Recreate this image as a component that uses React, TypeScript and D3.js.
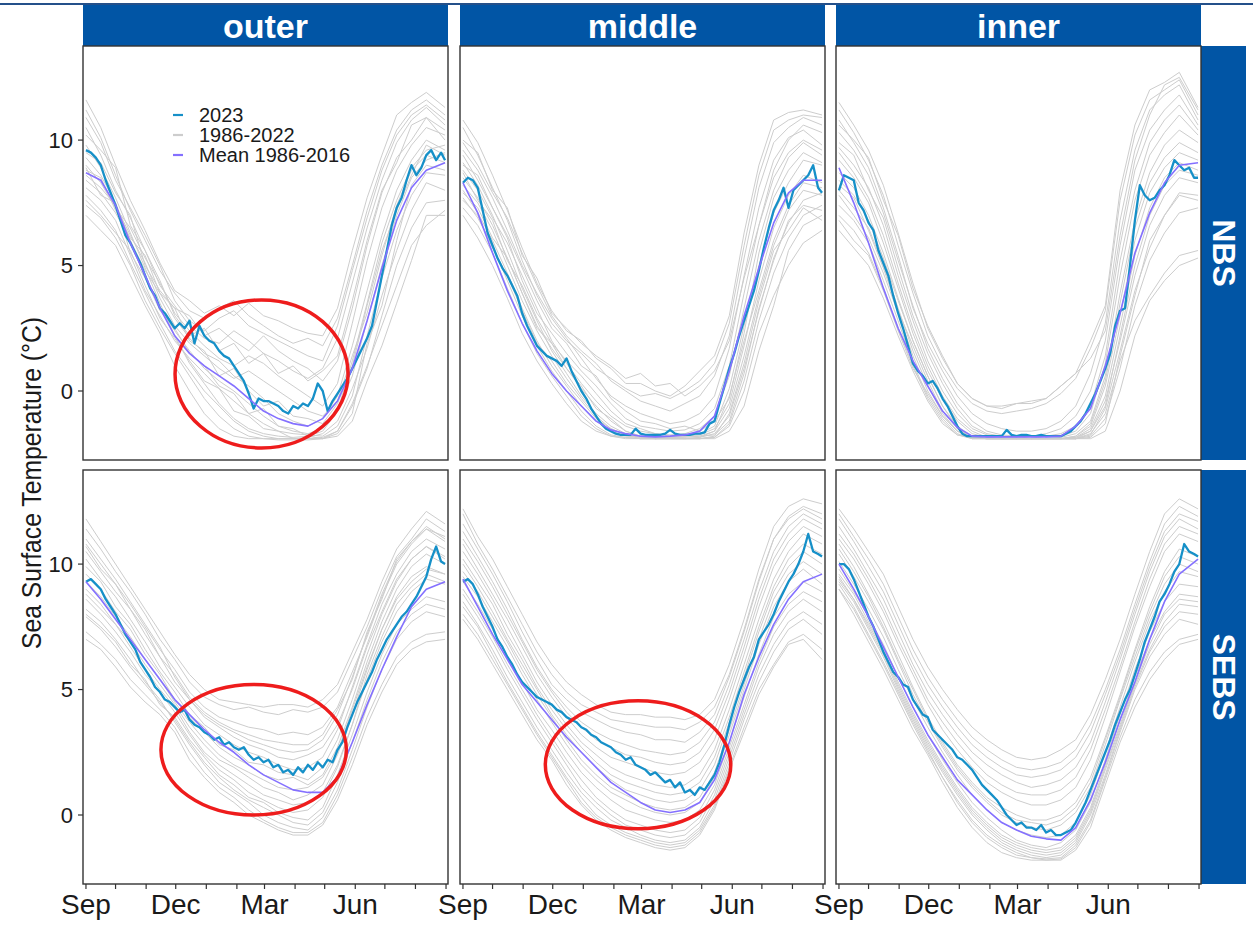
import React from "react";
import * as d3 from "d3";

// ---------- categories / ticks ----------
const regions = ["outer", "middle", "inner"];
const areas = ["NBS", "SEBS"];
const yTicks = [0, 5, 10];
const monthTickDays = [0, 30, 61, 91, 122, 153, 181, 212, 242, 273, 303, 334, 365];
const monthTickLabels = ["Sep", "", "", "Dec", "", "", "Mar", "", "", "Jun", "", "", ""];
const legendLabels = ["2023", "1986-2022", "Mean 1986-2016"];

// sample days (days since Sep 1)
const gridDays = [0, 15, 30, 45, 60, 75, 90, 105, 120, 135, 150, 165, 180, 195, 210, 225, 240, 255, 270, 285, 300, 315, 330, 345, 364];
const days2023 = [0, 5, 10, 15, 20, 25, 30, 35, 40, 45, 50, 55, 60, 65, 70, 75, 80, 85, 90, 95, 100, 105, 110, 115, 120, 125, 130, 135, 140, 145, 150, 155, 160, 165, 170, 175, 180, 185, 190, 195, 200, 205, 210, 215, 220, 225, 230, 235, 240, 245, 250, 255, 260, 265, 270, 275, 280, 285, 290, 295, 300, 305, 310, 315, 320, 325, 330, 335, 340, 345, 350, 355, 360, 364];

// ---------- 2023 ----------
const sst2023_NBS_outer = [9.6, 9.5, 9.3, 9.0, 8.4, 7.9, 7.4, 6.8, 6.2, 5.9, 5.5, 5.1, 4.6, 4.1, 3.8, 3.3, 3.1, 2.8, 2.5, 2.7, 2.5, 2.8, 1.9, 2.6, 2.2, 2.0, 1.9, 1.6, 1.4, 1.3, 1.0, 0.7, 0.4, -0.1, -0.7, -0.3, -0.4, -0.4, -0.5, -0.6, -0.8, -0.9, -0.6, -0.7, -0.5, -0.6, -0.3, 0.3, 0.0, -0.8, -0.4, -0.1, 0.2, 0.5, 0.9, 1.3, 1.7, 2.1, 2.6, 3.6, 4.6, 5.6, 6.6, 7.3, 7.7, 8.4, 9.0, 8.6, 8.9, 9.4, 9.6, 9.2, 9.5, 9.2];
const sst2023_NBS_middle = [8.3, 8.5, 8.4, 8.1, 7.2, 6.3, 5.8, 5.3, 4.9, 4.6, 4.2, 3.8, 3.1, 2.6, 2.2, 1.8, 1.6, 1.4, 1.3, 1.2, 1.0, 1.3, 0.8, 0.4, 0.0, -0.3, -0.7, -1.0, -1.3, -1.5, -1.6, -1.7, -1.75, -1.75, -1.75, -1.5, -1.7, -1.75, -1.75, -1.75, -1.75, -1.7, -1.55, -1.7, -1.75, -1.75, -1.75, -1.7, -1.7, -1.65, -1.3, -1.2, -0.5, 0.2, 0.9, 1.5, 2.2, 2.8, 3.4, 4.0, 4.8, 5.7, 6.5, 7.2, 7.6, 8.1, 7.3, 8.0, 8.2, 8.4, 8.6, 9.0, 8.1, 7.9];
const sst2023_NBS_inner = [8.0, 8.6, 8.5, 8.4, 7.5, 7.2, 6.7, 6.4, 5.6, 5.1, 4.6, 3.8, 3.1, 2.5, 1.8, 1.1, 0.8, 0.6, 0.3, 0.4, 0.1, -0.3, -0.6, -1.0, -1.4, -1.7, -1.8, -1.8, -1.8, -1.8, -1.8, -1.8, -1.8, -1.8, -1.55, -1.75, -1.8, -1.75, -1.75, -1.8, -1.8, -1.75, -1.8, -1.8, -1.8, -1.8, -1.7, -1.6, -1.4, -1.2, -0.9, -0.5, -0.1, 0.4, 0.9, 1.5, 2.6, 3.2, 3.3, 5.0, 6.8, 8.2, 7.8, 7.6, 7.7, 8.0, 8.2, 8.6, 9.2, 9.0, 8.8, 8.9, 8.5, 8.5];
const sst2023_SEBS_outer = [9.3, 9.4, 9.2, 9.0, 8.6, 8.3, 8.0, 7.6, 7.2, 6.9, 6.6, 6.1, 5.8, 5.5, 5.1, 4.9, 4.6, 4.5, 4.3, 4.1, 4.2, 3.8, 3.6, 3.5, 3.3, 3.2, 3.0, 3.1, 2.8, 2.9, 2.7, 2.6, 2.7, 2.4, 2.2, 2.3, 2.1, 2.2, 1.9, 2.0, 1.7, 1.8, 1.6, 1.9, 1.7, 2.0, 1.8, 2.1, 1.9, 2.2, 2.1, 2.6, 2.9, 3.5, 4.0, 4.5, 4.9, 5.3, 5.7, 6.2, 6.6, 7.0, 7.3, 7.6, 7.9, 8.1, 8.4, 8.7, 9.1, 9.5, 10.2, 10.7, 10.1, 10.0];
const sst2023_SEBS_middle = [9.3, 9.4, 9.2, 8.8, 8.3, 7.9, 7.5, 7.0, 6.7, 6.3, 6.0, 5.6, 5.3, 5.1, 4.9, 4.7, 4.6, 4.5, 4.4, 4.2, 4.1, 3.9, 3.8, 3.7, 3.5, 3.4, 3.2, 3.1, 2.9, 2.8, 2.7, 2.5, 2.4, 2.2, 2.3, 2.0, 1.9, 1.8, 1.6, 1.7, 1.5, 1.3, 1.4, 1.1, 1.3, 0.9, 1.0, 0.8, 1.1, 1.0, 1.3, 1.6, 2.1, 2.8, 3.6, 4.3, 4.9, 5.4, 5.9, 6.3, 7.0, 7.3, 7.6, 8.0, 8.5, 8.9, 9.3, 9.6, 10.0, 10.5, 11.2, 10.5, 10.4, 10.3];
const sst2023_SEBS_inner = [10.0, 10.0, 9.8, 9.4, 8.9, 8.4, 7.9, 7.5, 7.0, 6.5, 6.1, 5.7, 5.5, 5.2, 5.1, 4.6, 4.3, 4.0, 3.9, 3.4, 3.2, 3.0, 2.8, 2.6, 2.3, 2.2, 2.0, 1.8, 1.5, 1.2, 1.0, 0.8, 0.6, 0.3, 0.0, -0.2, -0.4, -0.3, -0.5, -0.5, -0.6, -0.4, -0.7, -0.6, -0.8, -0.8, -0.7, -0.6, -0.3, 0.1, 0.5, 1.0, 1.5, 2.0, 2.5, 3.0, 3.6, 4.1, 4.6, 5.0, 5.6, 6.2, 6.9, 7.4, 7.9, 8.5, 8.8, 9.2, 9.7, 10.0, 10.8, 10.5, 10.4, 10.3];

// ---------- Mean 1986-2016 ----------
const mean_NBS_outer = [8.7, 8.4, 7.4, 5.9, 4.6, 3.3, 2.2, 1.5, 1.0, 0.6, 0.2, -0.3, -0.8, -1.1, -1.3, -1.4, -1.1, -0.4, 0.9, 2.8, 4.9, 6.8, 8.1, 8.8, 9.1];
const mean_NBS_middle = [8.3, 7.1, 5.5, 4.0, 2.7, 1.6, 0.7, 0.0, -0.6, -1.2, -1.55, -1.7, -1.8, -1.83, -1.8, -1.75, -1.6, -1.0, 0.8, 3.0, 4.9, 6.7, 7.9, 8.4, 8.4];
const mean_NBS_inner = [8.9, 7.5, 5.9, 4.1, 2.5, 1.2, 0.2, -0.8, -1.45, -1.8, -1.83, -1.83, -1.83, -1.83, -1.83, -1.8, -1.4, -0.7, 1.0, 3.1, 5.5, 7.1, 8.3, 9.0, 9.1];
const mean_SEBS_outer = [9.3, 8.6, 7.8, 7.0, 6.2, 5.4, 4.6, 4.0, 3.4, 2.9, 2.5, 2.0, 1.6, 1.3, 1.0, 0.9, 0.9, 1.5, 2.9, 4.4, 5.8, 7.1, 8.3, 9.0, 9.3];
const mean_SEBS_middle = [9.4, 8.3, 7.2, 6.2, 5.2, 4.5, 3.8, 3.1, 2.5, 1.9, 1.3, 0.9, 0.5, 0.2, 0.1, 0.2, 0.5, 1.4, 2.9, 4.8, 6.3, 7.6, 8.6, 9.3, 9.6];
const mean_SEBS_inner = [10.0, 9.0, 7.9, 6.7, 5.5, 4.3, 3.2, 2.3, 1.4, 0.8, 0.2, -0.3, -0.6, -0.85, -0.95, -1.0, -0.5, 0.6, 2.1, 3.8, 5.3, 7.0, 8.5, 9.6, 10.2];

// ---------- 1986-2022 (gray) ----------
const hist_NBS_outer = [
  [11.2, 10.1, 8.6, 7.2, 6.0, 4.8, 3.9, 3.2, 2.9, 3.3, 3.6, 3.0, 2.6, 2.2, 1.9, 2.1, 1.8, 2.9, 5.0, 7.2, 9.0, 10.4, 11.2, 11.6, 11.0],
  [7.0, 6.4, 5.8, 4.6, 3.4, 2.3, 1.0, 0.0, -0.9, -1.5, -1.8, -1.9, -1.9, -1.9, -1.9, -1.9, -1.85, -1.6, -0.5, 1.0, 2.6, 4.2, 5.8, 6.6, 7.2],
  [9.8, 8.9, 7.7, 6.3, 4.9, 3.5, 2.2, 1.1, 0.3, -0.5, -1.1, -1.5, -1.7, -1.8, -1.85, -1.8, -1.6, -0.8, 1.2, 3.5, 5.9, 7.6, 8.9, 9.6, 9.8],
  [8.4, 7.9, 7.1, 6.0, 4.8, 3.9, 2.9, 2.1, 1.5, 1.2, 0.6, 0.2, -0.3, -0.9, -1.2, -1.4, -1.1, -0.2, 1.8, 4.0, 6.2, 8.0, 9.2, 10.0, 9.6],
  [10.5, 9.4, 8.0, 6.9, 5.6, 4.2, 3.4, 2.6, 2.1, 1.9, 2.4, 2.0, 1.5, 1.2, 0.8, 0.5, 0.9, 2.1, 4.3, 6.5, 8.4, 9.9, 10.8, 11.3, 10.6],
  [7.8, 7.2, 6.4, 5.1, 3.9, 2.7, 1.6, 0.8, 0.0, -0.6, -1.2, -1.6, -1.8, -1.9, -1.9, -1.85, -1.7, -1.2, 0.1, 1.7, 3.8, 5.6, 7.2, 8.3, 8.0],
  [9.0, 8.3, 7.3, 6.5, 5.3, 4.3, 3.1, 2.4, 1.8, 1.3, 1.0, 1.4, 1.1, 0.6, 0.2, -0.2, -0.6, 0.3, 2.7, 5.2, 7.3, 8.8, 9.8, 10.5, 10.2],
  [8.1, 7.6, 6.8, 5.4, 4.0, 3.0, 2.0, 1.3, 0.7, 0.1, -0.4, -0.9, -1.3, -1.6, -1.7, -1.75, -1.8, -1.4, -0.2, 2.2, 4.5, 6.4, 7.8, 8.7, 8.6],
  [10.9, 9.9, 8.4, 7.3, 6.2, 5.0, 3.6, 2.8, 2.4, 2.9, 3.2, 2.6, 2.3, 2.0, 1.7, 1.4, 1.2, 2.6, 4.8, 6.9, 8.8, 10.2, 11.0, 11.4, 10.8],
  [9.3, 8.6, 7.5, 6.0, 4.5, 3.3, 2.4, 1.6, 0.9, 0.4, 0.0, -0.5, -1.0, -1.4, -1.6, -1.7, -1.5, -0.8, 0.6, 2.8, 5.0, 7.0, 8.5, 9.2, 9.5],
  [8.6, 8.1, 7.4, 6.2, 5.1, 3.7, 2.6, 1.9, 1.4, 0.9, 0.5, 0.8, 0.4, 0.0, -0.4, -0.8, -1.0, -0.4, 1.4, 3.1, 5.4, 7.4, 8.8, 9.4, 9.1],
  [7.4, 6.9, 6.1, 5.0, 3.6, 2.5, 1.5, 0.6, -0.3, -1.0, -1.5, -1.8, -1.9, -1.95, -1.95, -1.95, -1.9, -1.6, -0.6, 0.9, 3.0, 5.0, 6.5, 7.5, 7.6],
  [10.2, 9.6, 8.9, 6.6, 5.6, 4.4, 3.0, 2.2, 2.5, 1.6, 1.9, 1.1, 1.5, 0.7, 1.0, 0.4, 0.8, 1.4, 3.6, 6.0, 8.0, 9.1, 10.6, 10.9, 10.4],
  [8.9, 7.8, 7.5, 5.5, 4.5, 3.2, 2.5, 1.5, 1.0, 0.2, -0.1, -0.9, -0.7, -1.4, -1.5, -1.8, -1.9, -1.7, -0.9, 1.9, 3.4, 6.0, 8.2, 9.0, 8.8],
  [9.5, 9.1, 7.9, 7.0, 5.0, 4.0, 3.3, 3.0, 2.2, 2.5, 2.0, 1.6, 2.2, 1.6, 1.2, 0.9, 0.4, 1.2, 3.3, 5.8, 7.9, 9.3, 10.0, 10.9, 10.0],
  [7.6, 7.0, 6.3, 5.6, 4.2, 2.9, 2.1, 1.2, 0.4, 0.1, -0.8, -1.0, -1.5, -1.6, -1.9, -1.9, -1.9, -1.8, -1.2, 0.4, 1.8, 3.5, 5.2, 7.0, 7.0],
  [11.6, 10.5, 9.0, 7.6, 6.4, 5.1, 4.0, 3.6, 3.1, 3.4, 3.0, 3.5, 3.0, 2.8, 2.5, 2.3, 2.2, 3.3, 5.6, 7.7, 9.4, 11.0, 11.5, 11.9, 11.3],
  [8.8, 8.5, 7.2, 6.1, 5.4, 3.9, 3.3, 2.0, 1.6, 0.6, 0.9, 0.0, -0.6, -0.4, -1.0, -1.1, -1.3, -0.5, 1.0, 3.4, 5.6, 7.2, 8.6, 9.8, 9.4],
];
const hist_NBS_middle = [
  [10.5, 9.4, 8.1, 6.8, 5.2, 3.8, 2.7, 2.0, 1.5, 0.9, 0.5, 0.1, -0.2, -0.1, -0.3, 0.0, 0.4, 1.1, 2.7, 5.8, 8.6, 10.4, 10.8, 11.0, 10.9],
  [7.0, 6.1, 5.0, 3.7, 2.3, 1.2, 0.3, -0.5, -1.2, -1.6, -1.8, -1.85, -1.9, -1.9, -1.9, -1.9, -1.9, -1.85, -1.4, 0.0, 2.3, 3.8, 5.0, 5.9, 6.4],
  [9.1, 8.2, 7.0, 5.6, 4.1, 2.8, 1.6, 0.7, -0.2, -0.9, -1.4, -1.7, -1.8, -1.85, -1.85, -1.8, -1.7, -1.4, 0.1, 2.6, 5.0, 7.1, 8.3, 9.2, 9.0],
  [8.2, 7.5, 6.4, 5.0, 3.6, 2.4, 1.4, 0.5, -0.3, -1.0, -1.5, -1.75, -1.85, -1.85, -1.8, -1.8, -1.75, -1.5, -0.5, 1.8, 4.4, 6.5, 7.8, 8.6, 8.3],
  [9.6, 8.8, 7.7, 6.4, 5.0, 3.9, 2.9, 2.1, 1.3, 0.5, -0.2, -0.6, -0.9, -1.1, -1.3, -1.2, -0.9, -0.2, 1.7, 4.6, 7.3, 9.2, 10.1, 10.4, 9.8],
  [7.7, 6.9, 5.8, 4.4, 3.0, 1.8, 0.8, 0.0, -0.8, -1.4, -1.75, -1.85, -1.9, -1.9, -1.9, -1.9, -1.85, -1.7, -1.0, 0.9, 3.2, 5.3, 6.7, 7.6, 7.9],
  [8.8, 8.0, 6.9, 5.9, 4.6, 3.3, 2.0, 1.1, 0.3, -0.4, -1.0, -1.4, -1.6, -1.7, -1.75, -1.7, -1.5, -1.0, 0.6, 3.3, 6.0, 8.0, 9.3, 9.9, 9.4],
  [9.9, 9.0, 7.9, 6.9, 5.5, 4.2, 3.0, 2.2, 1.6, 1.1, 0.4, 0.0, -0.4, -0.6, -0.8, -0.5, -0.2, 0.6, 2.2, 5.3, 8.1, 9.9, 10.5, 10.9, 10.6],
  [8.5, 7.7, 6.6, 5.3, 3.9, 2.6, 1.7, 0.9, 0.1, -0.6, -1.2, -1.6, -1.8, -1.85, -1.85, -1.85, -1.8, -1.6, -0.7, 1.4, 3.8, 5.8, 7.2, 8.0, 7.8],
  [7.3, 6.6, 5.5, 4.1, 2.7, 1.5, 0.6, -0.2, -1.0, -1.5, -1.8, -1.9, -1.9, -1.9, -1.9, -1.9, -1.9, -1.85, -1.3, 0.4, 2.8, 4.7, 6.1, 7.0, 7.4],
  [9.4, 8.4, 7.3, 6.1, 4.4, 3.1, 2.3, 1.5, 0.8, 0.2, -0.5, -1.1, -1.4, -1.5, -1.6, -1.55, -1.3, -0.7, 1.0, 3.9, 6.6, 8.5, 9.5, 10.0, 9.6],
  [8.0, 7.1, 6.0, 4.7, 3.3, 2.0, 1.0, 0.2, -0.6, -1.2, -1.6, -1.8, -1.85, -1.9, -1.9, -1.9, -1.85, -1.6, -0.2, 2.0, 4.0, 6.0, 7.4, 8.3, 8.1],
  [10.0, 9.5, 8.0, 7.3, 5.4, 4.5, 3.1, 2.5, 1.9, 1.4, 1.0, 0.5, 0.7, 0.2, 0.3, -0.2, 0.2, 0.8, 2.0, 4.5, 6.6, 8.8, 10.0, 10.6, 10.3],
  [7.9, 7.3, 6.1, 5.3, 3.9, 2.5, 1.9, 0.9, 0.2, -0.7, -1.1, -1.6, -1.8, -1.9, -1.85, -1.9, -1.9, -1.9, -1.6, -0.6, 1.6, 3.4, 5.6, 6.6, 7.0],
  [9.0, 8.6, 7.3, 6.2, 4.9, 3.6, 2.5, 1.9, 1.0, 0.6, -0.3, -0.8, -1.2, -1.3, -1.5, -1.4, -1.6, -1.2, -0.3, 2.3, 5.5, 7.7, 8.8, 9.5, 9.1],
  [8.7, 7.6, 6.8, 5.2, 4.2, 2.9, 1.9, 1.2, 0.6, -0.1, -0.8, -1.3, -1.5, -1.7, -1.8, -1.8, -1.8, -1.75, -1.2, 0.7, 3.3, 5.2, 6.8, 7.4, 7.2],
  [10.8, 9.9, 8.6, 7.2, 5.7, 4.3, 3.2, 2.4, 2.0, 1.3, 0.9, 0.3, 0.3, 0.0, -0.2, 0.2, 0.8, 1.4, 3.0, 6.3, 9.0, 10.8, 11.1, 11.2, 11.0],
  [7.6, 7.0, 5.7, 4.6, 3.2, 1.9, 1.2, 0.3, -0.4, -1.1, -1.5, -1.75, -1.9, -1.9, -1.9, -1.9, -1.9, -1.8, -0.9, 1.1, 3.6, 5.6, 6.4, 7.3, 6.8],
];
const hist_NBS_inner = [
  [11.2, 10.3, 9.2, 7.8, 5.8, 3.9, 2.2, 1.0, 0.1, -0.5, -0.8, -0.9, -0.8, -0.7, -0.5, -0.1, 0.5, 1.7, 3.2, 7.6, 10.2, 11.6, 12.0, 12.4, 11.0],
  [6.4, 5.7, 5.0, 3.7, 2.2, 0.8, -0.4, -1.3, -1.75, -1.85, -1.9, -1.9, -1.9, -1.9, -1.9, -1.9, -1.9, -1.7, -0.9, 1.2, 2.8, 3.8, 4.7, 5.4, 5.6],
  [9.2, 8.5, 7.5, 5.9, 4.1, 2.3, 0.8, -0.3, -1.2, -1.7, -1.85, -1.9, -1.9, -1.9, -1.9, -1.9, -1.8, -1.4, 0.2, 3.0, 6.0, 7.9, 8.9, 9.5, 9.2],
  [8.0, 7.3, 6.5, 5.0, 3.3, 1.6, 0.2, -0.9, -1.6, -1.85, -1.9, -1.9, -1.9, -1.9, -1.9, -1.9, -1.85, -1.6, -0.4, 2.0, 4.6, 6.6, 7.8, 8.5, 8.3],
  [10.3, 9.6, 8.6, 7.1, 5.2, 3.4, 1.7, 0.5, -0.5, -1.2, -1.6, -1.75, -1.8, -1.8, -1.7, -1.5, -1.0, 0.0, 2.0, 5.8, 8.8, 10.4, 11.2, 11.8, 10.6],
  [7.4, 6.8, 5.9, 4.4, 2.8, 1.1, -0.2, -1.1, -1.7, -1.9, -1.9, -1.9, -1.9, -1.9, -1.9, -1.9, -1.9, -1.8, -1.1, 0.9, 3.4, 5.2, 6.3, 7.1, 7.3],
  [8.7, 8.1, 7.0, 5.5, 3.7, 2.0, 0.6, -0.6, -1.4, -1.8, -1.9, -1.9, -1.9, -1.9, -1.9, -1.85, -1.7, -1.2, 0.6, 3.9, 6.8, 8.7, 9.8, 10.4, 9.9],
  [9.7, 9.0, 8.1, 6.6, 4.6, 2.8, 1.2, 0.0, -0.9, -1.5, -1.75, -1.85, -1.85, -1.8, -1.8, -1.8, -1.6, -0.9, 1.1, 4.6, 7.6, 9.4, 10.3, 11.0, 10.2],
  [7.0, 6.4, 5.5, 4.1, 2.5, 1.0, -0.3, -1.2, -1.75, -1.9, -1.9, -1.9, -1.9, -1.9, -1.9, -1.9, -1.9, -1.75, -0.7, 1.6, 4.0, 5.7, 7.0, 7.8, 7.6],
  [10.8, 9.9, 8.9, 7.3, 5.4, 3.3, 1.9, 0.8, -0.2, -0.9, -1.3, -1.5, -1.6, -1.6, -1.5, -1.2, -0.6, 0.7, 2.7, 6.8, 9.6, 11.2, 11.8, 12.2, 10.8],
  [8.4, 7.8, 6.8, 5.3, 3.6, 2.0, 0.6, -0.6, -1.5, -1.85, -1.9, -1.9, -1.9, -1.9, -1.9, -1.9, -1.85, -1.5, -0.2, 2.6, 5.4, 7.3, 8.5, 9.1, 8.8],
  [9.5, 8.7, 7.7, 6.2, 4.3, 2.5, 1.0, -0.2, -1.1, -1.6, -1.85, -1.9, -1.9, -1.9, -1.9, -1.9, -1.8, -1.3, 0.4, 3.5, 6.5, 8.3, 9.3, 9.9, 9.5],
  [10.6, 10.0, 9.3, 7.6, 6.2, 4.1, 2.6, 1.4, 0.3, -0.3, -0.6, -0.7, -0.5, -0.4, -0.3, 0.2, 0.7, 2.0, 3.4, 8.0, 10.6, 12.0, 12.3, 12.7, 11.3],
  [6.8, 6.0, 5.4, 4.0, 2.4, 0.9, -0.1, -1.0, -1.6, -1.9, -1.9, -1.9, -1.9, -1.9, -1.9, -1.9, -1.9, -1.9, -1.6, 0.0, 2.2, 3.6, 4.4, 5.0, 5.3],
  [9.9, 9.4, 8.0, 6.9, 4.9, 3.0, 1.5, 0.3, -0.7, -1.4, -1.7, -1.8, -1.8, -1.9, -1.8, -1.7, -1.4, -0.6, 1.4, 5.2, 8.0, 9.9, 10.8, 11.4, 10.4],
  [7.8, 7.0, 6.1, 4.7, 3.1, 1.4, 0.0, -1.0, -1.6, -1.85, -1.9, -1.9, -1.9, -1.9, -1.9, -1.9, -1.9, -1.85, -1.3, 1.4, 3.8, 6.0, 7.0, 7.9, 7.8],
  [11.5, 10.6, 9.6, 8.2, 6.3, 4.3, 2.5, 1.3, 0.3, -0.3, -0.6, -0.6, -0.5, -0.5, -0.3, 0.2, 0.7, 1.3, 2.4, 6.2, 9.2, 11.0, 12.2, 12.5, 11.2],
  [8.2, 7.7, 6.4, 4.9, 3.2, 1.8, 0.4, -0.8, -1.5, -1.85, -1.9, -1.9, -1.9, -1.9, -1.9, -1.9, -1.9, -1.6, -0.6, 2.2, 5.0, 7.0, 8.2, 8.8, 8.6],
];
const hist_SEBS_outer = [
  [11.4, 10.6, 9.7, 8.9, 8.0, 7.0, 6.2, 5.3, 4.7, 4.4, 4.2, 4.3, 4.1, 4.0, 4.2, 4.1, 4.3, 4.9, 6.2, 7.5, 9.0, 10.3, 11.0, 11.8, 11.3],
  [7.3, 6.8, 6.2, 5.4, 4.8, 4.2, 3.5, 2.5, 1.7, 1.1, 0.7, 0.2, -0.2, -0.5, -0.7, -0.7, -0.3, 0.8, 2.3, 3.9, 5.2, 6.3, 6.9, 7.2, 7.3],
  [10.2, 9.4, 8.7, 7.8, 6.9, 5.9, 5.1, 4.3, 3.6, 3.2, 2.8, 2.5, 2.3, 2.0, 1.8, 1.9, 2.3, 3.4, 5.1, 6.8, 8.4, 9.6, 10.5, 11.0, 10.6],
  [8.6, 8.0, 7.3, 6.5, 5.6, 4.9, 4.1, 3.2, 2.4, 1.8, 1.4, 0.9, 0.6, 0.3, 0.1, 0.2, 0.7, 1.9, 3.6, 5.4, 6.9, 8.1, 8.9, 9.4, 9.2],
  [9.6, 9.0, 8.1, 7.4, 6.4, 5.6, 4.6, 3.9, 3.3, 2.7, 2.3, 2.0, 1.6, 1.4, 1.5, 1.2, 1.6, 2.7, 4.3, 6.1, 7.7, 9.0, 9.9, 10.4, 10.0],
  [7.9, 7.4, 6.7, 5.9, 5.2, 4.5, 3.8, 2.9, 2.1, 1.5, 1.0, 0.6, 0.3, 0.0, -0.3, -0.4, 0.1, 1.3, 2.9, 4.6, 6.1, 7.3, 8.0, 8.4, 8.2],
  [10.8, 10.0, 9.2, 8.4, 7.5, 6.6, 5.8, 4.9, 4.3, 3.9, 3.7, 3.5, 3.4, 3.2, 3.3, 3.2, 3.5, 4.3, 5.7, 7.1, 8.7, 10.0, 10.8, 11.4, 10.9],
  [9.0, 8.4, 7.6, 6.9, 6.0, 5.2, 4.4, 3.5, 2.8, 2.2, 1.9, 1.5, 1.1, 0.9, 0.6, 0.8, 1.2, 2.4, 4.0, 5.8, 7.4, 8.7, 9.5, 9.9, 9.6],
  [8.2, 7.7, 7.0, 6.2, 5.3, 4.6, 3.7, 2.8, 2.0, 1.3, 0.9, 0.5, 0.0, -0.3, -0.5, -0.6, -0.1, 1.0, 2.6, 4.3, 5.8, 7.0, 7.7, 8.1, 7.9],
  [11.0, 10.2, 9.4, 8.5, 7.6, 6.7, 5.5, 4.6, 4.0, 3.6, 3.3, 3.0, 2.8, 2.6, 2.5, 2.6, 3.0, 4.0, 5.5, 7.2, 8.8, 10.1, 10.9, 11.5, 11.0],
  [9.3, 8.7, 7.9, 7.1, 6.2, 5.4, 4.5, 3.7, 3.0, 2.4, 2.0, 1.7, 1.4, 1.1, 1.0, 1.1, 1.5, 2.5, 4.2, 5.9, 7.4, 8.6, 9.3, 9.8, 9.6],
  [10.5, 9.7, 8.9, 8.2, 7.2, 6.3, 5.3, 4.6, 3.9, 3.5, 3.1, 2.8, 2.6, 2.3, 2.2, 2.4, 2.7, 3.6, 5.0, 6.7, 8.1, 9.4, 10.2, 10.7, 10.3],
  [11.8, 10.9, 10.0, 9.1, 8.2, 7.3, 6.4, 5.6, 5.0, 4.6, 4.5, 4.4, 4.3, 4.4, 4.4, 4.3, 4.6, 5.2, 6.5, 7.8, 9.3, 10.6, 11.4, 12.1, 11.6],
  [7.0, 6.6, 5.9, 5.1, 4.5, 4.0, 3.3, 2.2, 1.5, 0.9, 0.5, 0.0, -0.3, -0.6, -0.8, -0.8, -0.4, 0.6, 2.0, 3.6, 4.9, 6.0, 6.6, 6.9, 7.0],
  [9.9, 9.3, 8.3, 7.6, 6.6, 5.7, 4.9, 4.0, 3.5, 2.8, 2.6, 2.1, 2.0, 1.7, 1.6, 1.4, 1.9, 3.0, 4.6, 6.4, 8.0, 9.3, 10.2, 10.7, 10.2],
  [8.0, 7.5, 6.9, 6.0, 5.4, 4.4, 3.9, 3.0, 2.3, 1.6, 1.2, 0.7, 0.5, 0.1, -0.1, -0.2, 0.3, 1.6, 3.2, 4.9, 6.4, 7.6, 8.2, 8.7, 8.5],
  [10.7, 9.8, 9.2, 8.2, 7.4, 6.3, 5.6, 4.7, 4.1, 3.7, 3.4, 3.2, 3.0, 2.9, 2.8, 2.8, 3.2, 4.2, 5.4, 7.3, 8.6, 10.2, 10.9, 11.4, 11.1],
  [8.8, 8.2, 7.6, 6.7, 5.8, 5.0, 4.3, 3.3, 2.5, 2.0, 1.6, 1.2, 0.8, 0.6, 0.4, 0.5, 0.9, 2.0, 3.6, 5.6, 7.1, 8.4, 9.1, 9.6, 9.3],
];
const hist_SEBS_middle = [
  [12.0, 10.8, 9.8, 8.7, 7.6, 6.5, 5.6, 4.9, 4.4, 4.1, 3.8, 3.7, 3.6, 3.5, 3.5, 3.4, 3.7, 4.3, 5.6, 7.4, 9.4, 11.0, 11.9, 12.3, 12.0],
  [8.0, 7.2, 6.2, 5.2, 4.2, 3.2, 2.3, 1.4, 0.5, -0.1, -0.5, -0.8, -1.0, -1.2, -1.3, -1.2, -0.7, 0.3, 1.9, 3.5, 5.0, 6.0, 6.9, 7.2, 6.6],
  [10.5, 9.6, 8.6, 7.5, 6.4, 5.3, 4.4, 3.6, 2.9, 2.4, 1.9, 1.6, 1.4, 1.2, 1.1, 1.2, 1.6, 2.6, 4.2, 6.0, 7.8, 9.4, 10.5, 11.2, 10.8],
  [9.0, 8.1, 7.1, 6.0, 5.0, 4.0, 3.1, 2.2, 1.4, 0.7, 0.2, -0.2, -0.4, -0.6, -0.7, -0.6, -0.1, 1.0, 2.7, 4.4, 6.1, 7.5, 8.4, 8.9, 8.5],
  [11.3, 10.3, 9.3, 8.2, 7.0, 5.9, 5.0, 4.3, 3.7, 3.3, 3.0, 2.8, 2.6, 2.5, 2.4, 2.5, 2.9, 3.7, 5.2, 7.0, 8.9, 10.5, 11.5, 12.0, 11.6],
  [8.5, 7.6, 6.6, 5.5, 4.5, 3.5, 2.6, 1.7, 0.9, 0.3, -0.2, -0.5, -0.8, -1.0, -1.1, -1.0, -0.5, 0.6, 2.3, 4.0, 5.6, 6.8, 7.7, 8.1, 7.6],
  [10.0, 9.1, 8.1, 7.0, 6.0, 5.0, 4.0, 3.2, 2.5, 1.9, 1.4, 1.0, 0.8, 0.6, 0.5, 0.6, 1.0, 2.0, 3.7, 5.5, 7.3, 8.9, 9.9, 10.5, 10.0],
  [9.5, 8.7, 7.7, 6.7, 5.6, 4.6, 3.7, 2.8, 2.0, 1.4, 0.9, 0.6, 0.3, 0.1, 0.0, 0.1, 0.5, 1.5, 3.2, 5.0, 6.8, 8.3, 9.3, 9.8, 9.2],
  [11.6, 10.6, 9.6, 8.5, 7.3, 6.2, 5.2, 4.6, 4.1, 3.8, 3.5, 3.3, 3.2, 3.0, 3.0, 2.9, 3.3, 4.0, 5.5, 7.3, 9.3, 11.0, 11.8, 12.2, 11.8],
  [8.3, 7.5, 6.4, 5.3, 4.3, 3.3, 2.4, 1.5, 0.7, 0.0, -0.4, -0.7, -0.9, -1.1, -1.2, -1.1, -0.6, 0.4, 2.1, 3.8, 5.3, 6.5, 7.4, 7.8, 7.2],
  [10.8, 9.8, 8.8, 7.8, 6.7, 5.6, 4.7, 3.9, 3.2, 2.7, 2.3, 2.1, 1.9, 1.7, 1.6, 1.7, 2.1, 3.0, 4.6, 6.4, 8.3, 9.9, 10.9, 11.5, 11.1],
  [9.3, 8.4, 7.4, 6.3, 5.3, 4.2, 3.4, 2.5, 1.7, 1.1, 0.6, 0.2, 0.0, -0.2, -0.3, -0.2, 0.2, 1.2, 2.9, 4.7, 6.4, 7.9, 8.8, 9.3, 8.9],
  [12.2, 11.1, 10.2, 9.1, 8.0, 6.9, 6.0, 5.3, 4.8, 4.4, 4.1, 4.0, 4.0, 3.9, 3.9, 3.8, 4.0, 4.6, 6.0, 7.8, 9.8, 11.5, 12.3, 12.6, 12.4],
  [7.8, 7.0, 6.0, 5.0, 4.0, 3.0, 2.2, 1.2, 0.4, -0.2, -0.6, -0.9, -1.1, -1.3, -1.4, -1.3, -0.8, 0.2, 1.8, 3.3, 4.8, 5.9, 6.8, 7.0, 6.2],
  [10.2, 9.3, 8.4, 7.2, 6.2, 5.1, 4.2, 3.4, 2.7, 2.1, 1.6, 1.3, 1.1, 0.9, 0.8, 0.9, 1.3, 2.3, 3.9, 5.7, 7.5, 9.1, 10.2, 10.8, 10.4],
  [8.8, 7.9, 6.9, 5.8, 4.8, 3.8, 2.9, 2.0, 1.1, 0.5, 0.0, -0.4, -0.6, -0.8, -0.9, -0.8, -0.3, 0.8, 2.5, 4.2, 5.9, 7.2, 8.1, 8.6, 8.1],
  [11.0, 10.1, 9.1, 8.0, 6.9, 5.8, 4.9, 4.1, 3.5, 3.0, 2.7, 2.4, 2.3, 2.1, 2.0, 2.1, 2.5, 3.4, 4.9, 6.7, 8.6, 10.2, 11.2, 11.8, 11.4],
  [9.7, 8.9, 7.9, 6.9, 5.8, 4.8, 3.9, 3.0, 2.2, 1.6, 1.1, 0.8, 0.5, 0.3, 0.2, 0.3, 0.7, 1.7, 3.4, 5.2, 7.0, 8.6, 9.6, 10.1, 9.6],
];
const hist_SEBS_inner = [
  [12.0, 11.1, 10.2, 9.2, 7.9, 6.6, 5.5, 4.6, 3.8, 3.1, 2.6, 2.2, 1.9, 1.8, 1.9, 2.1, 2.6, 3.6, 5.0, 6.6, 8.4, 10.1, 11.6, 12.3, 11.9],
  [9.2, 8.3, 7.2, 6.1, 4.9, 3.7, 2.6, 1.5, 0.5, -0.3, -0.9, -1.3, -1.6, -1.7, -1.8, -1.75, -1.3, -0.3, 1.4, 3.1, 4.6, 5.7, 6.5, 7.0, 7.2],
  [10.8, 9.9, 8.8, 7.7, 6.4, 5.1, 3.9, 2.9, 2.0, 1.3, 0.7, 0.3, 0.0, -0.2, -0.2, 0.0, 0.5, 1.5, 3.1, 4.8, 6.6, 8.3, 9.7, 10.6, 10.3],
  [9.8, 8.9, 7.9, 6.8, 5.5, 4.3, 3.2, 2.2, 1.3, 0.5, -0.1, -0.6, -1.0, -1.2, -1.3, -1.1, -0.6, 0.5, 2.2, 4.0, 5.8, 7.3, 8.5, 9.2, 9.1],
  [11.5, 10.6, 9.6, 8.6, 7.3, 6.0, 4.9, 4.0, 3.2, 2.5, 2.0, 1.6, 1.3, 1.1, 1.2, 1.4, 1.9, 2.9, 4.5, 6.2, 8.0, 9.7, 11.1, 11.8, 11.4],
  [9.5, 8.6, 7.5, 6.4, 5.1, 3.9, 2.8, 1.8, 0.9, 0.1, -0.5, -1.0, -1.3, -1.5, -1.6, -1.5, -1.0, 0.1, 1.8, 3.5, 5.2, 6.6, 7.7, 8.4, 8.3],
  [10.4, 9.5, 8.5, 7.4, 6.1, 4.8, 3.7, 2.7, 1.8, 1.1, 0.5, 0.0, -0.3, -0.5, -0.6, -0.4, 0.1, 1.1, 2.8, 4.6, 6.3, 7.9, 9.2, 10.0, 9.7],
  [11.0, 10.2, 9.2, 8.1, 6.8, 5.6, 4.4, 3.4, 2.6, 1.9, 1.3, 0.9, 0.6, 0.4, 0.4, 0.6, 1.1, 2.2, 3.9, 5.7, 7.5, 9.1, 10.5, 11.2, 10.9],
  [9.0, 8.2, 7.1, 6.0, 4.8, 3.6, 2.5, 1.5, 0.6, -0.2, -0.8, -1.2, -1.5, -1.7, -1.75, -1.7, -1.2, -0.2, 1.5, 3.3, 5.0, 6.3, 7.2, 7.8, 7.6],
  [10.1, 9.2, 8.2, 7.1, 5.8, 4.6, 3.5, 2.5, 1.6, 0.8, 0.2, -0.3, -0.6, -0.8, -0.9, -0.8, -0.3, 0.8, 2.5, 4.3, 6.1, 7.7, 8.9, 9.7, 9.5],
  [11.8, 10.9, 9.9, 8.9, 7.6, 6.3, 5.2, 4.3, 3.5, 2.8, 2.3, 1.9, 1.6, 1.5, 1.6, 1.8, 2.3, 3.3, 4.8, 6.4, 8.2, 9.9, 11.3, 12.0, 11.7],
  [9.3, 8.5, 7.4, 6.3, 5.0, 3.8, 2.7, 1.7, 0.8, 0.0, -0.6, -1.1, -1.4, -1.6, -1.7, -1.6, -1.1, 0.0, 1.6, 3.4, 5.1, 6.5, 7.5, 8.1, 8.0],
  [12.2, 11.4, 10.5, 9.6, 8.3, 7.0, 5.9, 5.0, 4.2, 3.5, 3.0, 2.6, 2.3, 2.2, 2.3, 2.6, 3.0, 4.0, 5.4, 7.0, 8.8, 10.5, 12.0, 12.6, 12.2],
  [9.0, 8.0, 6.9, 5.8, 4.6, 3.4, 2.4, 1.3, 0.3, -0.5, -1.1, -1.5, -1.7, -1.8, -1.8, -1.8, -1.4, -0.5, 1.2, 2.9, 4.3, 5.4, 6.2, 6.8, 7.0],
  [10.6, 9.7, 8.7, 7.5, 6.2, 5.0, 3.8, 2.8, 1.9, 1.2, 0.6, 0.1, -0.2, -0.3, -0.4, -0.2, 0.3, 1.3, 3.0, 4.7, 6.5, 8.1, 9.5, 10.3, 10.0],
  [9.6, 8.8, 7.7, 6.6, 5.3, 4.1, 3.0, 2.0, 1.1, 0.3, -0.3, -0.8, -1.1, -1.3, -1.4, -1.3, -0.8, 0.3, 2.0, 3.8, 5.5, 7.0, 8.1, 8.8, 8.7],
  [11.2, 10.4, 9.4, 8.3, 7.0, 5.8, 4.6, 3.7, 2.9, 2.2, 1.6, 1.2, 0.9, 0.8, 0.8, 1.0, 1.5, 2.6, 4.2, 5.9, 7.7, 9.4, 10.8, 11.5, 11.2],
  [9.4, 8.6, 7.6, 6.5, 5.2, 4.0, 2.9, 1.9, 1.0, 0.2, -0.4, -0.9, -1.2, -1.4, -1.5, -1.4, -0.9, 0.2, 1.9, 3.6, 5.3, 6.8, 8.0, 8.6, 8.5],
];

// ---------- annotations (data units: day, °C, radius days, radius °C) ----------
const highlightArea = ["NBS", "SEBS", "SEBS"];
const highlightRegion = ["outer", "outer", "middle"];
const highlightDay = [178, 170, 177.5];
const highlightTemp = [0.68, 2.6, 2.0];
const highlightRadDays = [87.7, 94, 94];
const highlightRadTemp = [2.95, 2.6, 2.55];

// ---------- lookup tables ----------
const series2023: Record<string, number[]> = {
  NBS_outer: sst2023_NBS_outer, NBS_middle: sst2023_NBS_middle, NBS_inner: sst2023_NBS_inner,
  SEBS_outer: sst2023_SEBS_outer, SEBS_middle: sst2023_SEBS_middle, SEBS_inner: sst2023_SEBS_inner,
};
const seriesMean: Record<string, number[]> = {
  NBS_outer: mean_NBS_outer, NBS_middle: mean_NBS_middle, NBS_inner: mean_NBS_inner,
  SEBS_outer: mean_SEBS_outer, SEBS_middle: mean_SEBS_middle, SEBS_inner: mean_SEBS_inner,
};
const seriesHist: Record<string, number[][]> = {
  NBS_outer: hist_NBS_outer, NBS_middle: hist_NBS_middle, NBS_inner: hist_NBS_inner,
  SEBS_outer: hist_SEBS_outer, SEBS_middle: hist_SEBS_middle, SEBS_inner: hist_SEBS_inner,
};

// ---------- layout ----------
const W = 1253;
const H = 936;
const colX = [83, 460, 836];
const rowY = [46, 470];
const PW = 365;
const PH = 414;
const STRIP_TOP = 5;
const RSTRIP_W = 45;

const C2023 = "#1690c8";
const CMEAN = "#8470ff";
const CGRAY = "#cdcdcd";
const STRIP = "#0155a5";
const FONT = "'Liberation Sans', Arial, Helvetica, sans-serif";

const x = d3.scaleLinear().domain([-3, 367]).range([0, PW]);
const y = d3.scaleLinear().domain([-2.75, 13.75]).range([PH, 0]);

function pathFor(days: number[], vals: number[]) {
  const n = Math.min(days.length, vals.length);
  const pts: [number, number][] = [];
  for (let i = 0; i < n; i++) pts.push([x(days[i]), y(vals[i])]);
  return d3.line()(pts) || "";
}

export default function App() {
  return (
    <svg
      width={W}
      height={H}
      viewBox={`0 0 ${W} ${H}`}
      style={{ position: "absolute", left: 0, top: 0, background: "#fff" }}
      fontFamily={FONT}
    >
      <rect x={0} y={0} width={W} height={H} fill="#fff" />
      <line x1={0} x2={W} y1={4} y2={4} stroke="#24508a" strokeWidth={2} />

      {/* top strips */}
      {regions.map((reg, c) => (
        <g key={reg}>
          <rect x={colX[c]} y={STRIP_TOP} width={PW} height={rowY[0] - STRIP_TOP} fill={STRIP} />
          <text
            x={colX[c] + PW / 2}
            y={38}
            textAnchor="middle"
            fill="#fff"
            fontWeight="bold"
            fontSize={34}
          >
            {reg}
          </text>
        </g>
      ))}

      {/* right strips */}
      {areas.map((ar, r) => (
        <g key={ar}>
          <rect x={colX[2] + PW} y={rowY[r]} width={RSTRIP_W} height={PH} fill={STRIP} />
          <text
            transform={`translate(${colX[2] + PW + RSTRIP_W / 2},${rowY[r] + PH / 2}) rotate(90)`}
            textAnchor="middle"
            dominantBaseline="central"
            fill="#fff"
            fontWeight="bold"
            fontSize={32}
          >
            {ar}
          </text>
        </g>
      ))}

      {/* panels */}
      {areas.map((ar, r) =>
        regions.map((reg, c) => {
          const key = `${ar}_${reg}`;
          return (
            <g key={key} transform={`translate(${colX[c]},${rowY[r]})`}>
              <rect x={0} y={0} width={PW} height={PH} fill="#fff" />
              {seriesHist[key].map((vals, i) => (
                <path key={i} d={pathFor(gridDays, vals)} fill="none" stroke={CGRAY} strokeWidth={1} />
              ))}
              <path d={pathFor(days2023, series2023[key])} fill="none" stroke={C2023} strokeWidth={2.3} strokeLinejoin="round" />
              <path d={pathFor(gridDays, seriesMean[key])} fill="none" stroke={CMEAN} strokeWidth={1.6} strokeLinejoin="round" />
              <rect x={0} y={0} width={PW} height={PH} fill="none" stroke="#333" strokeWidth={1.4} />

              {c === 0 &&
                yTicks.map((t) => (
                  <g key={t}>
                    <line x1={-5} x2={0} y1={y(t)} y2={y(t)} stroke="#333" strokeWidth={1.2} />
                    <text x={-10} y={y(t)} dy="0.36em" textAnchor="end" fontSize={22} fill="#1a1a1a">
                      {t}
                    </text>
                  </g>
                ))}

              {r === 1 &&
                monthTickDays.map((d, i) => (
                  <g key={i}>
                    <line x1={x(d)} x2={x(d)} y1={PH} y2={PH + 5} stroke="#333" strokeWidth={1.2} />
                    {monthTickLabels[i] && (
                      <text x={x(d)} y={PH + 30} textAnchor="middle" fontSize={28} fill="#1a1a1a">
                        {monthTickLabels[i]}
                      </text>
                    )}
                  </g>
                ))}

              {r === 0 && c === 0 &&
                legendLabels.map((lab, i) => (
                  <g key={lab} transform={`translate(90,${69 + i * 20})`}>
                    <line x1={0} x2={10} y1={0} y2={0} stroke={[C2023, CGRAY, CMEAN][i]} strokeWidth={2.2} />
                    <text x={26} y={0} dy="0.35em" fontSize={20} fill="#1a1a1a">
                      {lab}
                    </text>
                  </g>
                ))}

              {highlightArea.map((ha, i) =>
                ha === ar && highlightRegion[i] === reg ? (
                  <ellipse
                    key={i}
                    cx={x(highlightDay[i])}
                    cy={y(highlightTemp[i])}
                    rx={x(highlightDay[i] + highlightRadDays[i]) - x(highlightDay[i])}
                    ry={y(highlightTemp[i] - highlightRadTemp[i]) - y(highlightTemp[i])}
                    fill="none"
                    stroke="#ee1c1c"
                    strokeWidth={3.5}
                  />
                ) : null
              )}
            </g>
          );
        })
      )}

      {/* y axis title */}
      <text
        transform={`translate(41,483) rotate(-90)`}
        textAnchor="middle"
        fontSize={27}
        textLength={332}
        lengthAdjust="spacingAndGlyphs"
        fill="#1a1a1a"
      >
        Sea Surface Temperature (°C)
      </text>
    </svg>
  );
}
